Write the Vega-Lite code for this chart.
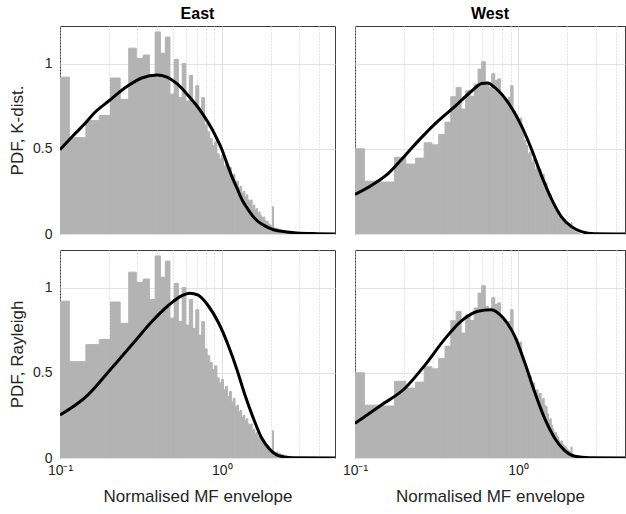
{
"$schema": "https://vega.github.io/schema/vega-lite/v6.json",
"padding": {"left": 8, "top": 5, "right": 0, "bottom": 0},
"background": "white",
"datasets": {
"frame": [{"f": 1}],
"hist": [
{"r":"E","x":0.0839,"xe":0.1142,"pdf":0.92},
{"r":"E","x":0.1142,"xe":0.1445,"pdf":0.565},
{"r":"E","x":0.1445,"xe":0.1748,"pdf":0.665},
{"r":"E","x":0.1748,"xe":0.2051,"pdf":0.695},
{"r":"E","x":0.2051,"xe":0.2354,"pdf":0.915},
{"r":"E","x":0.2354,"xe":0.2657,"pdf":0.79},
{"r":"E","x":0.2657,"xe":0.296,"pdf":1.09},
{"r":"E","x":0.296,"xe":0.3263,"pdf":1.03},
{"r":"E","x":0.3263,"xe":0.3566,"pdf":1.05},
{"r":"E","x":0.3566,"xe":0.3869,"pdf":0.93},
{"r":"E","x":0.3869,"xe":0.4172,"pdf":1.185},
{"r":"E","x":0.4172,"xe":0.4475,"pdf":1.06},
{"r":"E","x":0.4475,"xe":0.4778,"pdf":1.155},
{"r":"E","x":0.4778,"xe":0.5081,"pdf":0.82},
{"r":"E","x":0.5081,"xe":0.5384,"pdf":1.025},
{"r":"E","x":0.5384,"xe":0.5687,"pdf":0.80},
{"r":"E","x":0.5687,"xe":0.599,"pdf":1.0},
{"r":"E","x":0.599,"xe":0.6293,"pdf":0.78},
{"r":"E","x":0.6293,"xe":0.6596,"pdf":0.93},
{"r":"E","x":0.6596,"xe":0.6899,"pdf":0.76},
{"r":"E","x":0.6899,"xe":0.7202,"pdf":0.87},
{"r":"E","x":0.7202,"xe":0.7505,"pdf":0.72},
{"r":"E","x":0.7505,"xe":0.7808,"pdf":0.80},
{"r":"E","x":0.7808,"xe":0.8111,"pdf":0.64},
{"r":"E","x":0.8111,"xe":0.8414,"pdf":0.60},
{"r":"E","x":0.8414,"xe":0.8717,"pdf":0.56},
{"r":"E","x":0.8717,"xe":0.902,"pdf":0.52},
{"r":"E","x":0.902,"xe":0.9323,"pdf":0.54},
{"r":"E","x":0.9323,"xe":0.9626,"pdf":0.47},
{"r":"E","x":0.9626,"xe":0.9929,"pdf":0.44},
{"r":"E","x":0.9929,"xe":1.0232,"pdf":0.46},
{"r":"E","x":1.0232,"xe":1.0535,"pdf":0.40},
{"r":"E","x":1.0535,"xe":1.0838,"pdf":0.42},
{"r":"E","x":1.0838,"xe":1.1141,"pdf":0.36},
{"r":"E","x":1.1141,"xe":1.1444,"pdf":0.39},
{"r":"E","x":1.1444,"xe":1.1747,"pdf":0.33},
{"r":"E","x":1.1747,"xe":1.205,"pdf":0.35},
{"r":"E","x":1.205,"xe":1.2353,"pdf":0.30},
{"r":"E","x":1.2353,"xe":1.2656,"pdf":0.31},
{"r":"E","x":1.2656,"xe":1.2959,"pdf":0.27},
{"r":"E","x":1.2959,"xe":1.3262,"pdf":0.28},
{"r":"E","x":1.3262,"xe":1.3565,"pdf":0.24},
{"r":"E","x":1.3565,"xe":1.3868,"pdf":0.25},
{"r":"E","x":1.3868,"xe":1.4171,"pdf":0.22},
{"r":"E","x":1.4171,"xe":1.4474,"pdf":0.23},
{"r":"E","x":1.4474,"xe":1.4777,"pdf":0.20},
{"r":"E","x":1.4777,"xe":1.508,"pdf":0.19},
{"r":"E","x":1.508,"xe":1.5383,"pdf":0.20},
{"r":"E","x":1.5383,"xe":1.5686,"pdf":0.16},
{"r":"E","x":1.5686,"xe":1.5989,"pdf":0.17},
{"r":"E","x":1.5989,"xe":1.6292,"pdf":0.14},
{"r":"E","x":1.6292,"xe":1.6595,"pdf":0.15},
{"r":"E","x":1.6595,"xe":1.6898,"pdf":0.12},
{"r":"E","x":1.6898,"xe":1.7201,"pdf":0.13},
{"r":"E","x":1.7201,"xe":1.7504,"pdf":0.11},
{"r":"E","x":1.7504,"xe":1.7807,"pdf":0.10},
{"r":"E","x":1.7807,"xe":1.811,"pdf":0.09},
{"r":"E","x":1.811,"xe":1.8413,"pdf":0.10},
{"r":"E","x":1.8413,"xe":1.8716,"pdf":0.08},
{"r":"E","x":1.8716,"xe":1.9019,"pdf":0.07},
{"r":"E","x":1.9019,"xe":1.9322,"pdf":0.075},
{"r":"E","x":1.9322,"xe":1.9625,"pdf":0.06},
{"r":"E","x":1.9625,"xe":1.9928,"pdf":0.055},
{"r":"E","x":1.9928,"xe":2.0231,"pdf":0.05},
{"r":"E","x":2.0231,"xe":2.0534,"pdf":0.045},
{"r":"E","x":2.0534,"xe":2.0837,"pdf":0.16},
{"r":"E","x":2.0837,"xe":2.114,"pdf":0.04},
{"r":"E","x":2.114,"xe":2.1443,"pdf":0.035},
{"r":"E","x":2.1443,"xe":2.1746,"pdf":0.03},
{"r":"E","x":2.1746,"xe":2.2049,"pdf":0.035},
{"r":"E","x":2.2049,"xe":2.2352,"pdf":0.025},
{"r":"E","x":2.2352,"xe":2.2655,"pdf":0.03},
{"r":"E","x":2.2655,"xe":2.2958,"pdf":0.02},
{"r":"E","x":2.2958,"xe":2.3261,"pdf":0.025},
{"r":"E","x":2.3261,"xe":2.3564,"pdf":0.02},
{"r":"E","x":2.3564,"xe":2.3867,"pdf":0.018},
{"r":"E","x":2.3867,"xe":2.417,"pdf":0.02},
{"r":"E","x":2.417,"xe":2.4473,"pdf":0.015},
{"r":"E","x":2.4473,"xe":2.4776,"pdf":0.012},
{"r":"E","x":2.4776,"xe":2.5079,"pdf":0.015},
{"r":"E","x":2.5079,"xe":2.5382,"pdf":0.01},
{"r":"E","x":2.5382,"xe":2.5685,"pdf":0.012},
{"r":"E","x":2.5685,"xe":2.5988,"pdf":0.008},
{"r":"E","x":2.5988,"xe":2.6291,"pdf":0.01},
{"r":"E","x":2.6291,"xe":2.6594,"pdf":0.006},
{"r":"E","x":2.6594,"xe":2.6897,"pdf":0.008},
{"r":"E","x":2.6897,"xe":2.72,"pdf":0.005},
{"r":"E","x":2.72,"xe":2.7503,"pdf":0.006},
{"r":"E","x":2.7503,"xe":2.7806,"pdf":0.004},
{"r":"E","x":2.7806,"xe":2.8109,"pdf":0.005},
{"r":"E","x":2.8109,"xe":2.8412,"pdf":0.003},
{"r":"W","x":0.0839,"xe":0.1142,"pdf":0.50},
{"r":"W","x":0.1142,"xe":0.1445,"pdf":0.31},
{"r":"W","x":0.1445,"xe":0.1748,"pdf":0.305},
{"r":"W","x":0.1748,"xe":0.2051,"pdf":0.45},
{"r":"W","x":0.2051,"xe":0.2354,"pdf":0.41},
{"r":"W","x":0.2354,"xe":0.2657,"pdf":0.445},
{"r":"W","x":0.2657,"xe":0.296,"pdf":0.535},
{"r":"W","x":0.296,"xe":0.3263,"pdf":0.523},
{"r":"W","x":0.3263,"xe":0.3566,"pdf":0.584},
{"r":"W","x":0.3566,"xe":0.3869,"pdf":0.656},
{"r":"W","x":0.3869,"xe":0.4172,"pdf":0.805},
{"r":"W","x":0.4172,"xe":0.4475,"pdf":0.86},
{"r":"W","x":0.4475,"xe":0.4778,"pdf":0.733},
{"r":"W","x":0.4778,"xe":0.5081,"pdf":0.84},
{"r":"W","x":0.5081,"xe":0.5384,"pdf":0.807},
{"r":"W","x":0.5384,"xe":0.5687,"pdf":0.88},
{"r":"W","x":0.5687,"xe":0.599,"pdf":0.967},
{"r":"W","x":0.599,"xe":0.6293,"pdf":1.01},
{"r":"W","x":0.6293,"xe":0.6596,"pdf":0.889},
{"r":"W","x":0.6596,"xe":0.6899,"pdf":0.86},
{"r":"W","x":0.6899,"xe":0.7202,"pdf":0.94},
{"r":"W","x":0.7202,"xe":0.7505,"pdf":0.90},
{"r":"W","x":0.7505,"xe":0.7808,"pdf":0.91},
{"r":"W","x":0.7808,"xe":0.8111,"pdf":0.82},
{"r":"W","x":0.8111,"xe":0.8414,"pdf":0.80},
{"r":"W","x":0.8414,"xe":0.8717,"pdf":0.78},
{"r":"W","x":0.8717,"xe":0.902,"pdf":0.80},
{"r":"W","x":0.902,"xe":0.9323,"pdf":0.87},
{"r":"W","x":0.9323,"xe":0.9626,"pdf":0.72},
{"r":"W","x":0.9626,"xe":0.9929,"pdf":0.70},
{"r":"W","x":0.9929,"xe":1.0232,"pdf":0.66},
{"r":"W","x":1.0232,"xe":1.0535,"pdf":0.68},
{"r":"W","x":1.0535,"xe":1.0838,"pdf":0.60},
{"r":"W","x":1.0838,"xe":1.1141,"pdf":0.55},
{"r":"W","x":1.1141,"xe":1.1444,"pdf":0.52},
{"r":"W","x":1.1444,"xe":1.1747,"pdf":0.47},
{"r":"W","x":1.1747,"xe":1.205,"pdf":0.48},
{"r":"W","x":1.205,"xe":1.2353,"pdf":0.42},
{"r":"W","x":1.2353,"xe":1.2656,"pdf":0.44},
{"r":"W","x":1.2656,"xe":1.2959,"pdf":0.38},
{"r":"W","x":1.2959,"xe":1.3262,"pdf":0.40},
{"r":"W","x":1.3262,"xe":1.3565,"pdf":0.37},
{"r":"W","x":1.3565,"xe":1.3868,"pdf":0.38},
{"r":"W","x":1.3868,"xe":1.4171,"pdf":0.34},
{"r":"W","x":1.4171,"xe":1.4474,"pdf":0.35},
{"r":"W","x":1.4474,"xe":1.4777,"pdf":0.31},
{"r":"W","x":1.4777,"xe":1.508,"pdf":0.30},
{"r":"W","x":1.508,"xe":1.5383,"pdf":0.26},
{"r":"W","x":1.5383,"xe":1.5686,"pdf":0.22},
{"r":"W","x":1.5686,"xe":1.5989,"pdf":0.23},
{"r":"W","x":1.5989,"xe":1.6292,"pdf":0.19},
{"r":"W","x":1.6292,"xe":1.6595,"pdf":0.17},
{"r":"W","x":1.6595,"xe":1.6898,"pdf":0.15},
{"r":"W","x":1.6898,"xe":1.7201,"pdf":0.15},
{"r":"W","x":1.7201,"xe":1.7504,"pdf":0.13},
{"r":"W","x":1.7504,"xe":1.7807,"pdf":0.12},
{"r":"W","x":1.7807,"xe":1.811,"pdf":0.10},
{"r":"W","x":1.811,"xe":1.8413,"pdf":0.09},
{"r":"W","x":1.8413,"xe":1.8716,"pdf":0.10},
{"r":"W","x":1.8716,"xe":1.9019,"pdf":0.08},
{"r":"W","x":1.9019,"xe":1.9322,"pdf":0.07},
{"r":"W","x":1.9322,"xe":1.9625,"pdf":0.07},
{"r":"W","x":1.9625,"xe":1.9928,"pdf":0.06},
{"r":"W","x":1.9928,"xe":2.0231,"pdf":0.05},
{"r":"W","x":2.0231,"xe":2.0534,"pdf":0.045},
{"r":"W","x":2.0534,"xe":2.0837,"pdf":0.04},
{"r":"W","x":2.0837,"xe":2.114,"pdf":0.035},
{"r":"W","x":2.114,"xe":2.1443,"pdf":0.065},
{"r":"W","x":2.1443,"xe":2.1746,"pdf":0.025},
{"r":"W","x":2.1746,"xe":2.2049,"pdf":0.02},
{"r":"W","x":2.2049,"xe":2.2352,"pdf":0.015},
{"r":"W","x":2.2352,"xe":2.2655,"pdf":0.012},
{"r":"W","x":2.2655,"xe":2.2958,"pdf":0.01},
{"r":"W","x":2.2958,"xe":2.3261,"pdf":0.008},
{"r":"W","x":2.3261,"xe":2.3564,"pdf":0.006},
{"r":"W","x":2.3564,"xe":2.3867,"pdf":0.004}
],
"curves": [
{"c":"EK","x":0.1,"pdf":0.495},{"c":"EK","x":0.12,"pdf":0.575},{"c":"EK","x":0.145,"pdf":0.655},{"c":"EK","x":0.161,"pdf":0.705},{"c":"EK","x":0.2,"pdf":0.78},{"c":"EK","x":0.259,"pdf":0.865},{"c":"EK","x":0.32,"pdf":0.915},{"c":"EK","x":0.398,"pdf":0.932},{"c":"EK","x":0.4534,"pdf":0.922},{"c":"EK","x":0.53,"pdf":0.88},{"c":"EK","x":0.6484,"pdf":0.79},{"c":"EK","x":0.6966,"pdf":0.755},{"c":"EK","x":0.7478,"pdf":0.715},{"c":"EK","x":0.8027,"pdf":0.67},{"c":"EK","x":0.8634,"pdf":0.62},{"c":"EK","x":0.9286,"pdf":0.562},{"c":"EK","x":0.9988,"pdf":0.497},{"c":"EK","x":1.0743,"pdf":0.415},{"c":"EK","x":1.1555,"pdf":0.335},{"c":"EK","x":1.2428,"pdf":0.267},{"c":"EK","x":1.3367,"pdf":0.198},{"c":"EK","x":1.4377,"pdf":0.15},{"c":"EK","x":1.5464,"pdf":0.107},{"c":"EK","x":1.6632,"pdf":0.076},{"c":"EK","x":1.8336,"pdf":0.049},{"c":"EK","x":2.0839,"pdf":0.025},{"c":"EK","x":2.52,"pdf":0.012},{"c":"EK","x":2.9,"pdf":0.006},{"c":"EK","x":3.87,"pdf":0.002},{"c":"EK","x":5,"pdf":0.0005},
{"c":"ER","x":0.1,"pdf":0.252},{"c":"ER","x":0.1485,"pdf":0.369},{"c":"ER","x":0.207,"pdf":0.524},{"c":"ER","x":0.2875,"pdf":0.68},{"c":"ER","x":0.366,"pdf":0.796},{"c":"ER","x":0.465,"pdf":0.893},{"c":"ER","x":0.563,"pdf":0.951},{"c":"ER","x":0.633,"pdf":0.967},{"c":"ER","x":0.714,"pdf":0.955},{"c":"ER","x":0.824,"pdf":0.893},{"c":"ER","x":0.95,"pdf":0.796},{"c":"ER","x":1.096,"pdf":0.66},{"c":"ER","x":1.234,"pdf":0.524},{"c":"ER","x":1.389,"pdf":0.369},{"c":"ER","x":1.565,"pdf":0.233},{"c":"ER","x":1.762,"pdf":0.117},{"c":"ER","x":1.985,"pdf":0.049},{"c":"ER","x":2.237,"pdf":0.014},{"c":"ER","x":2.7,"pdf":0.002},{"c":"ER","x":5,"pdf":0},
{"c":"WK","x":0.1,"pdf":0.232},{"c":"WK","x":0.1266,"pdf":0.286},{"c":"WK","x":0.1595,"pdf":0.354},{"c":"WK","x":0.203,"pdf":0.461},{"c":"WK","x":0.257,"pdf":0.568},{"c":"WK","x":0.325,"pdf":0.665},{"c":"WK","x":0.412,"pdf":0.75},{"c":"WK","x":0.522,"pdf":0.84},{"c":"WK","x":0.6,"pdf":0.883},{"c":"WK","x":0.65,"pdf":0.885},{"c":"WK","x":0.718,"pdf":0.86},{"c":"WK","x":0.868,"pdf":0.772},{"c":"WK","x":1.048,"pdf":0.636},{"c":"WK","x":1.207,"pdf":0.5},{"c":"WK","x":1.39,"pdf":0.344},{"c":"WK","x":1.6,"pdf":0.208},{"c":"WK","x":1.846,"pdf":0.101},{"c":"WK","x":2.127,"pdf":0.043},{"c":"WK","x":2.449,"pdf":0.014},{"c":"WK","x":2.96,"pdf":0.002},{"c":"WK","x":5,"pdf":0},
{"c":"WR","x":0.1,"pdf":0.203},{"c":"WR","x":0.1445,"pdf":0.31},{"c":"WR","x":0.201,"pdf":0.406},{"c":"WR","x":0.267,"pdf":0.542},{"c":"WR","x":0.354,"pdf":0.696},{"c":"WR","x":0.448,"pdf":0.803},{"c":"WR","x":0.568,"pdf":0.861},{"c":"WR","x":0.685,"pdf":0.87},{"c":"WR","x":0.809,"pdf":0.822},{"c":"WR","x":0.953,"pdf":0.716},{"c":"WR","x":1.098,"pdf":0.561},{"c":"WR","x":1.265,"pdf":0.387},{"c":"WR","x":1.457,"pdf":0.232},{"c":"WR","x":1.679,"pdf":0.116},{"c":"WR","x":1.934,"pdf":0.043},{"c":"WR","x":2.228,"pdf":0.01},{"c":"WR","x":2.74,"pdf":0.001},{"c":"WR","x":5,"pdf":0}
]
},
"concat": [
 {"width": 275, "height": 208, "title": "East",
  "encoding": {
   "x": {"field": "x", "type": "quantitative", "scale": {"type": "log", "domain": [0.1, 5], "nice": false},
     "axis": {"values": [0.1,0.2,0.3,0.4,0.5,0.6,0.7,0.8,0.9,1,2,3,4], "labels": false, "title": null,
       "gridDash": {"condition": {"test": "datum.value == 1", "value": []}, "value": [1, 2]},
       "gridColor": {"condition": {"test": "datum.value == 1", "value": "#e2e2e2"}, "value": "#cccccc"}}},
   "y": {"field": "pdf", "type": "quantitative", "scale": {"domain": [0, 1.22], "nice": false},
     "axis": {"values": [0, 0.5, 1], "title": "PDF, K-dist.", "labelExpr": "datum.value == 0.5 ? '0.5' : datum.value == 1 ? '1' : '0'", "labelPadding": 8, "titlePadding": 6, "labelFlush": false}}
  },
  "layer": [
   {"data": {"name": "hist"}, "transform": [{"filter": "datum.r == 'E'"}], "mark": {"type": "rect", "color": "#b3b3b3", "stroke": "#b3b3b3", "strokeWidth": 1, "clip": true}, "encoding": {"x2": {"field": "xe"}, "y2": {"datum": 0}}},
   {"data": {"name": "curves"}, "transform": [{"filter": "datum.c == 'EK'"}], "mark": {"type": "line", "color": "#000000", "strokeWidth": 3, "clip": true, "interpolate": "monotone"}, "encoding": {}},
   {"data": {"name": "frame"}, "mark": {"type": "rect", "filled": false, "color": "#404040", "strokeWidth": 1, "opacity": 1}, "encoding": {"x": {"datum": 0.1}, "x2": {"datum": 5}, "y": {"datum": 0}, "y2": {"datum": 1.22}}}
  ]},
 {"width": 270, "height": 208, "title": "West",
  "encoding": {
   "x": {"field": "x", "type": "quantitative", "scale": {"type": "log", "domain": [0.1, 4.53], "nice": false},
     "axis": {"values": [0.1,0.2,0.3,0.4,0.5,0.6,0.7,0.8,0.9,1,2,3,4], "labels": false, "title": null,
       "gridDash": {"condition": {"test": "datum.value == 1", "value": []}, "value": [1, 2]},
       "gridColor": {"condition": {"test": "datum.value == 1", "value": "#e2e2e2"}, "value": "#cccccc"}}},
   "y": {"field": "pdf", "type": "quantitative", "scale": {"domain": [0, 1.22], "nice": false},
     "axis": {"values": [0, 0.5, 1], "title": null, "labels": false}}
  },
  "layer": [
   {"data": {"name": "hist"}, "transform": [{"filter": "datum.r == 'W'"}], "mark": {"type": "rect", "color": "#b3b3b3", "stroke": "#b3b3b3", "strokeWidth": 1, "clip": true}, "encoding": {"x2": {"field": "xe"}, "y2": {"datum": 0}}},
   {"data": {"name": "curves"}, "transform": [{"filter": "datum.c == 'WK'"}], "mark": {"type": "line", "color": "#000000", "strokeWidth": 3, "clip": true, "interpolate": "monotone"}, "encoding": {}},
   {"data": {"name": "frame"}, "mark": {"type": "rect", "filled": false, "color": "#404040", "strokeWidth": 1, "opacity": 1}, "encoding": {"x": {"datum": 0.1}, "x2": {"datum": 4.53}, "y": {"datum": 0}, "y2": {"datum": 1.22}}}
  ]},
 {"width": 275, "height": 208,
  "encoding": {
   "x": {"field": "x", "type": "quantitative", "scale": {"type": "log", "domain": [0.1, 5], "nice": false},
     "axis": {"values": [0.1,0.2,0.3,0.4,0.5,0.6,0.7,0.8,0.9,1,2,3,4], "title": "Normalised MF envelope",
       "labelExpr": "datum.value == 0.1 ? '10⁻¹' : datum.value == 1 ? '10⁰' : ''", "labelOverlap": false, "labelFlush": false, "labelPadding": 5, "titlePadding": 11,
       "gridDash": {"condition": {"test": "datum.value == 1", "value": []}, "value": [1, 2]},
       "gridColor": {"condition": {"test": "datum.value == 1", "value": "#e2e2e2"}, "value": "#cccccc"}}},
   "y": {"field": "pdf", "type": "quantitative", "scale": {"domain": [0, 1.22], "nice": false},
     "axis": {"values": [0, 0.5, 1], "title": "PDF, Rayleigh", "labelExpr": "datum.value == 0.5 ? '0.5' : datum.value == 1 ? '1' : '0'", "labelPadding": 8, "titlePadding": 6, "labelFlush": false}}
  },
  "layer": [
   {"data": {"name": "hist"}, "transform": [{"filter": "datum.r == 'E'"}], "mark": {"type": "rect", "color": "#b3b3b3", "stroke": "#b3b3b3", "strokeWidth": 1, "clip": true}, "encoding": {"x2": {"field": "xe"}, "y2": {"datum": 0}}},
   {"data": {"name": "curves"}, "transform": [{"filter": "datum.c == 'ER'"}], "mark": {"type": "line", "color": "#000000", "strokeWidth": 3, "clip": true, "interpolate": "monotone"}, "encoding": {}},
   {"data": {"name": "frame"}, "mark": {"type": "rect", "filled": false, "color": "#404040", "strokeWidth": 1, "opacity": 1}, "encoding": {"x": {"datum": 0.1}, "x2": {"datum": 5}, "y": {"datum": 0}, "y2": {"datum": 1.22}}}
  ]},
 {"width": 270, "height": 208,
  "encoding": {
   "x": {"field": "x", "type": "quantitative", "scale": {"type": "log", "domain": [0.1, 4.53], "nice": false},
     "axis": {"values": [0.1,0.2,0.3,0.4,0.5,0.6,0.7,0.8,0.9,1,2,3,4], "title": "Normalised MF envelope",
       "labelExpr": "datum.value == 0.1 ? '10⁻¹' : datum.value == 1 ? '10⁰' : ''", "labelOverlap": false, "labelFlush": false, "labelPadding": 5, "titlePadding": 11,
       "gridDash": {"condition": {"test": "datum.value == 1", "value": []}, "value": [1, 2]},
       "gridColor": {"condition": {"test": "datum.value == 1", "value": "#e2e2e2"}, "value": "#cccccc"}}},
   "y": {"field": "pdf", "type": "quantitative", "scale": {"domain": [0, 1.22], "nice": false},
     "axis": {"values": [0, 0.5, 1], "title": null, "labels": false}}
  },
  "layer": [
   {"data": {"name": "hist"}, "transform": [{"filter": "datum.r == 'W'"}], "mark": {"type": "rect", "color": "#b3b3b3", "stroke": "#b3b3b3", "strokeWidth": 1, "clip": true}, "encoding": {"x2": {"field": "xe"}, "y2": {"datum": 0}}},
   {"data": {"name": "curves"}, "transform": [{"filter": "datum.c == 'WR'"}], "mark": {"type": "line", "color": "#000000", "strokeWidth": 3, "clip": true, "interpolate": "monotone"}, "encoding": {}},
   {"data": {"name": "frame"}, "mark": {"type": "rect", "filled": false, "color": "#404040", "strokeWidth": 1, "opacity": 1}, "encoding": {"x": {"datum": 0.1}, "x2": {"datum": 4.53}, "y": {"datum": 0}, "y2": {"datum": 1.22}}}
  ]}
],
"columns": 2,
"spacing": {"row": 16, "column": 20},
"bounds": "flush",
"config": {
 "font": "Liberation Sans",
 "view": {"stroke": "#404040", "strokeWidth": 1},
 "axis": {"labelFont": "Liberation Sans", "labelFontSize": 14, "labelColor": "#262626", "titleFont": "Liberation Sans", "titleFontSize": 17, "titleFontWeight": "normal", "titleColor": "#262626", "domain": false, "ticks": false, "grid": true, "gridColor": "#e2e2e2", "gridWidth": 1},
 "title": {"font": "Liberation Sans", "fontSize": 16, "fontWeight": "bold", "color": "#000000", "offset": 4}
}
}
